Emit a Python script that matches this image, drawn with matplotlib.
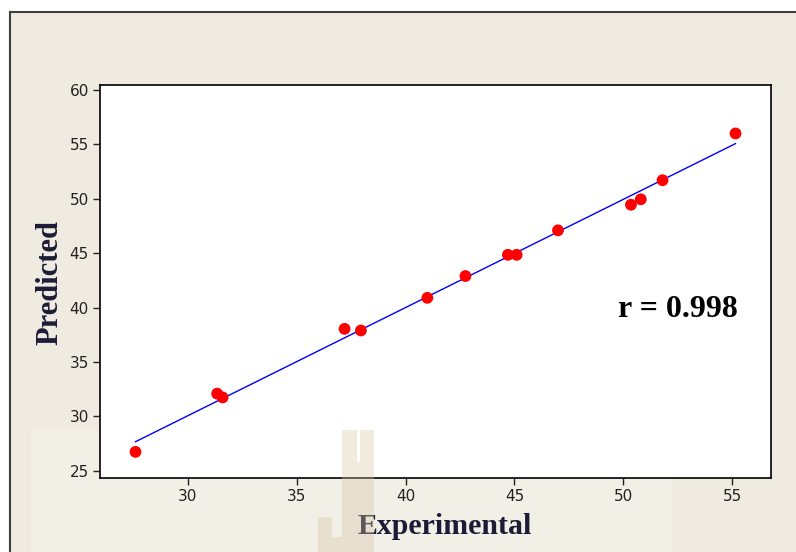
import numpy as np
import matplotlib.pyplot as plt
from matplotlib.patches import Rectangle

# experimental vs predicted values
experimental = [27.6, 31.35, 31.6, 37.2, 37.95, 41.0, 42.75, 44.7, 45.1, 47.0, 50.35, 50.8, 51.8, 55.15]
predicted = [26.75, 32.1, 31.75, 38.05, 37.9, 40.9, 42.9, 44.85, 44.85, 47.1, 49.45, 49.95, 51.7, 56.0]
r_text = 'r = 0.998'

x_ticks = [30, 35, 40, 45, 50, 55]
y_ticks = [25, 30, 35, 40, 45, 50, 55, 60]

W, H = 796, 552
fig = plt.figure(figsize=(W / 100, H / 100), dpi=100)
fig.patch.set_facecolor('white')


def px_rect(x0, y0, x1, y1, **kw):
    # rectangle given in pixel coordinates (origin at top-left)
    return Rectangle((x0 / W, 1 - y1 / H), (x1 - x0) / W, (y1 - y0) / H,
                     transform=fig.transFigure, **kw)


# beige panel with a dark frame on top and left
fig.add_artist(px_rect(10, 12, W + 5, H + 5, facecolor='#efebe0', edgecolor='none', zorder=0))
fig.add_artist(px_rect(31, 430, 672, H + 5, facecolor='#f2efe7', edgecolor='none', zorder=0))
fig.add_artist(plt.Line2D([10 / W, 1], [1 - 12 / H, 1 - 12 / H], transform=fig.transFigure,
                          color='#404040', lw=1.5, zorder=1))
fig.add_artist(plt.Line2D([10 / W, 10 / W], [0, 1 - 12 / H], transform=fig.transFigure,
                          color='#404040', lw=1.5, zorder=1))

ax = fig.add_axes([100 / W, 1 - 478 / H, 671 / W, 393 / H])
ax.set_facecolor('white')

slope, icpt = np.polyfit(experimental, predicted, 1)
xl = np.array([min(experimental), max(experimental)])
ax.plot(xl, slope * xl + icpt, color='#0000ff', lw=1.0, zorder=2)
ax.scatter(experimental, predicted, s=72, color='#ff0000', edgecolors='none', zorder=3)

ax.set_xlim(25.97, 56.78)
ax.set_ylim(24.35, 60.45)
ax.set_xticks(x_ticks)
ax.set_yticks(y_ticks)
ax.tick_params(direction='out', length=5, width=1, colors='#222222', labelsize=11, pad=3)
for s in ax.spines.values():
    s.set_linewidth(1.2)
    s.set_color('black')

ax.text(52.5, 39.8, r_text, fontsize=23, fontweight='bold', family='Liberation Serif',
        ha='center', va='center', color='black')

fig.text(50 / W, 1 - 283 / H, 'Predicted', rotation=90, fontsize=22, fontweight='bold',
         family='Liberation Serif', color='#1c1c38', ha='center', va='center')
fig.text(445 / W, 1 - 527 / H, 'Experimental', fontsize=21.5, fontweight='bold',
         family='Liberation Serif', color='#1c1c38', ha='center', va='center')

# faint logo mark at the bottom
tan = dict(facecolor='#d8c6a2', edgecolor='none', alpha=0.35, zorder=5)
fig.add_artist(px_rect(342, 430, 357, H, **tan))
fig.add_artist(px_rect(360, 430, 374, H, **tan))
fig.add_artist(px_rect(357, 462, 360, H, **tan))
fig.add_artist(px_rect(318, 517, 332, H, **tan))
fig.add_artist(px_rect(332, 537, 342, H, **tan))

fig.savefig('out.png', dpi=100, facecolor=fig.get_facecolor())
